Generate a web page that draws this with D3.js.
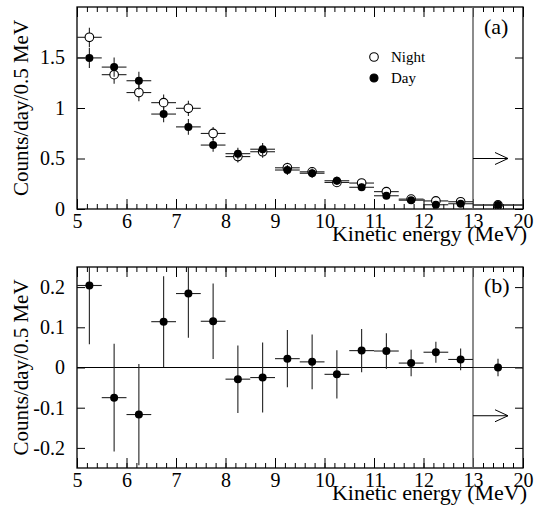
<!DOCTYPE html>
<html>
<head>
<meta charset="utf-8">
<script src="https://cdn.jsdelivr.net/npm/d3@7"></script>
<style>
  body { margin: 0; background: #fff; }
  svg { display: block; }
  text { font-family: "Liberation Serif", "Times New Roman", Times, serif; fill: #000; }
</style>
</head>
<body>
<div id="chart"></div>
<script>
// bin edges in MeV (last bin is the 13-20 MeV overflow bin)
const binEdges = [5, 5.5, 6, 6.5, 7, 7.5, 8, 8.5, 9, 9.5, 10, 10.5, 11, 11.5, 12, 12.5, 13, 20];

// panel (a): night and day rates, counts/day/0.5 MeV
const nightRate = [1.70, 1.33, 1.153, 1.053, 0.997, 0.748, 0.519, 0.567, 0.408, 0.368, 0.263, 0.257, 0.172, 0.098, 0.080, 0.072, 0.040];
const nightErr  = [0.095, 0.090, 0.085, 0.080, 0.075, 0.065, 0.058, 0.060, 0.050, 0.048, 0.042, 0.038, 0.031, 0.023, 0.018, 0.019, 0.016];
const dayRate   = [1.496, 1.405, 1.270, 0.940, 0.813, 0.633, 0.548, 0.592, 0.386, 0.354, 0.280, 0.215, 0.131, 0.087, 0.042, 0.052, 0.040];
const dayErr    = [0.100, 0.095, 0.089, 0.080, 0.078, 0.066, 0.059, 0.062, 0.050, 0.048, 0.042, 0.038, 0.031, 0.023, 0.018, 0.019, 0.016];

// panel (b): night - day
const diffRate = [0.204, -0.075, -0.117, 0.114, 0.184, 0.115, -0.029, -0.025, 0.022, 0.014, -0.017, 0.042, 0.041, 0.011, 0.038, 0.020, 0.000];
const diffErr  = [0.146, 0.134, 0.126, 0.113, 0.110, 0.094, 0.084, 0.087, 0.071, 0.068, 0.060, 0.054, 0.044, 0.033, 0.026, 0.027, 0.022];

const xLabels = [5, 6, 7, 8, 9, 10, 11, 12, 13, 20];

const width = 535, height = 514;
const svg = d3.select("#chart").append("svg")
  .attr("width", width).attr("height", height);

// broken x axis: 5-13 linear, 13-20 squeezed into one unit
const x = d3.scaleLinear().domain([5, 13, 20]).range([77, 473, 523]);

const minorX = d3.range(5, 13.001, 0.2).concat(d3.range(1, 6).map(k => 13 + k * 1.4));

function bins() {
  return binEdges.slice(0, -1).map((lo, i) => ({ lo: lo, hi: binEdges[i + 1], c: (lo + binEdges[i + 1]) / 2 }));
}

function drawPanel(top, bottom, yDomain, yTicks, name, clipId) {
  const y = d3.scaleLinear().domain(yDomain).range([bottom, top]);
  const g = svg.append("g");

  g.append("clipPath").attr("id", clipId)
    .append("rect").attr("x", x(5)).attr("y", top)
    .attr("width", x(20) - x(5)).attr("height", bottom - top);

  // bottom axis ticks (inward) with labels
  g.append("g").attr("transform", `translate(0,${bottom})`)
    .call(d3.axisBottom(x).tickValues(minorX).tickSize(-5).tickFormat(""))
    .call(a => a.select(".domain").remove());
  g.append("g").attr("transform", `translate(0,${bottom})`)
    .call(d3.axisBottom(x).tickValues(xLabels).tickSize(-10).tickPadding(5).tickFormat(d => d))
    .attr("font-size", 20).attr("font-family", null)
    .call(a => a.select(".domain").remove());
  // top frame ticks
  g.append("g").attr("transform", `translate(0,${top})`)
    .call(d3.axisTop(x).tickValues(minorX).tickSize(-5).tickFormat(""))
    .call(a => a.select(".domain").remove());
  g.append("g").attr("transform", `translate(0,${top})`)
    .call(d3.axisTop(x).tickValues(xLabels).tickSize(-10).tickFormat(""))
    .call(a => a.select(".domain").remove());
  // left & right ticks
  g.append("g").attr("transform", `translate(${x(5)},0)`)
    .call(d3.axisLeft(y).tickValues(yTicks).tickSize(-8).tickPadding(12).tickFormat(d => String(d)))
    .attr("font-size", 20).attr("font-family", null)
    .call(a => a.select(".domain").remove());
  g.append("g").attr("transform", `translate(${x(20)},0)`)
    .call(d3.axisRight(y).tickValues(yTicks).tickSize(-8).tickFormat(""))
    .call(a => a.select(".domain").remove());
  g.selectAll(".tick line").attr("stroke", "#000");

  // frame
  g.append("rect").attr("x", x(5)).attr("y", top)
    .attr("width", x(20) - x(5)).attr("height", bottom - top)
    .attr("fill", "none").attr("stroke", "#000").attr("stroke-width", 1.3);

  // 13 MeV divider
  g.append("line").attr("x1", x(13)).attr("x2", x(13)).attr("y1", top).attr("y2", bottom)
    .attr("stroke", "#666").attr("stroke-width", 1.5);

  // axis titles
  g.append("text").attr("x", 527).attr("y", bottom + 32)
    .attr("text-anchor", "end").attr("font-size", 22)
    .text("Kinetic energy (MeV)");
  g.append("text")
    .attr("transform", `translate(28,${(top + bottom) / 2}) rotate(-90)`)
    .attr("text-anchor", "middle").attr("font-size", 21)
    .text("Counts/day/0.5 MeV");

  g.append("text").attr("x", 484).attr("y", top + (name === "(a)" ? 27 : 26))
    .attr("font-size", 22).text(name);

  return { g: g, y: y };
}

// draw one series of points with x/y error bars
function drawSeries(p, rates, errs, open, clipId) {
  const y = p.y;
  const data = bins().map((b, i) => Object.assign({ v: rates[i], e: errs[i] }, b));
  const s = p.g.append("g").attr("clip-path", `url(#${clipId})`);
  s.selectAll("line.h").data(data).enter().append("line")
    .attr("x1", d => x(d.lo)).attr("x2", d => x(d.hi))
    .attr("y1", d => y(d.v)).attr("y2", d => y(d.v))
    .attr("stroke", "#222").attr("stroke-width", 1.1);
  s.selectAll("line.v").data(data).enter().append("line")
    .attr("x1", d => x(d.c)).attr("x2", d => x(d.c))
    .attr("y1", d => y(d.v - d.e)).attr("y2", d => y(d.v + d.e))
    .attr("stroke", "#222").attr("stroke-width", 1.1);
  s.selectAll("circle").data(data).enter().append("circle")
    .attr("cx", d => x(d.c)).attr("cy", d => y(d.v))
    .attr("r", open ? 4.3 : 4)
    .attr("fill", open ? "#fff" : "#000")
    .attr("stroke", "#000").attr("stroke-width", open ? 1.1 : 0);
}

function drawArrow(p, val) {
  const yy = p.y(val), x0 = x(13), x1 = x(13) + 35;
  p.g.append("path")
    .attr("d", `M${x0},${yy}H${x1}M${x1 - 13},${yy - 6}L${x1},${yy}L${x1 - 13},${yy + 6}`)
    .attr("fill", "none").attr("stroke", "#000").attr("stroke-width", 1);
}

// panel (a)
const pa = drawPanel(7, 209, [0, 2], [0, 0.5, 1, 1.5], "(a)", "clipA");
drawSeries(pa, nightRate, nightErr, true, "clipA");
drawSeries(pa, dayRate, dayErr, false, "clipA");
drawArrow(pa, 0.5);

// legend
const legend = [{ label: "Night", open: true }, { label: "Day", open: false }];
legend.forEach((l, i) => {
  pa.g.append("circle").attr("cx", 374).attr("cy", 57 + i * 21).attr("r", l.open ? 4.3 : 4)
    .attr("fill", l.open ? "#fff" : "#000").attr("stroke", "#000").attr("stroke-width", 1.1);
  pa.g.append("text").attr("x", 391).attr("y", 62 + i * 21).attr("font-size", 15).text(l.label);
});

// panel (b)
const pb = drawPanel(267, 468, [-0.25, 0.25], [-0.2, -0.1, 0, 0.1, 0.2], "(b)", "clipB");
pb.g.append("line").attr("x1", x(5)).attr("x2", x(20))
  .attr("y1", pb.y(0)).attr("y2", pb.y(0)).attr("stroke", "#000").attr("stroke-width", 1.2);
drawSeries(pb, diffRate, diffErr, false, "clipB");
drawArrow(pb, -0.12);
</script>
</body>
</html>
